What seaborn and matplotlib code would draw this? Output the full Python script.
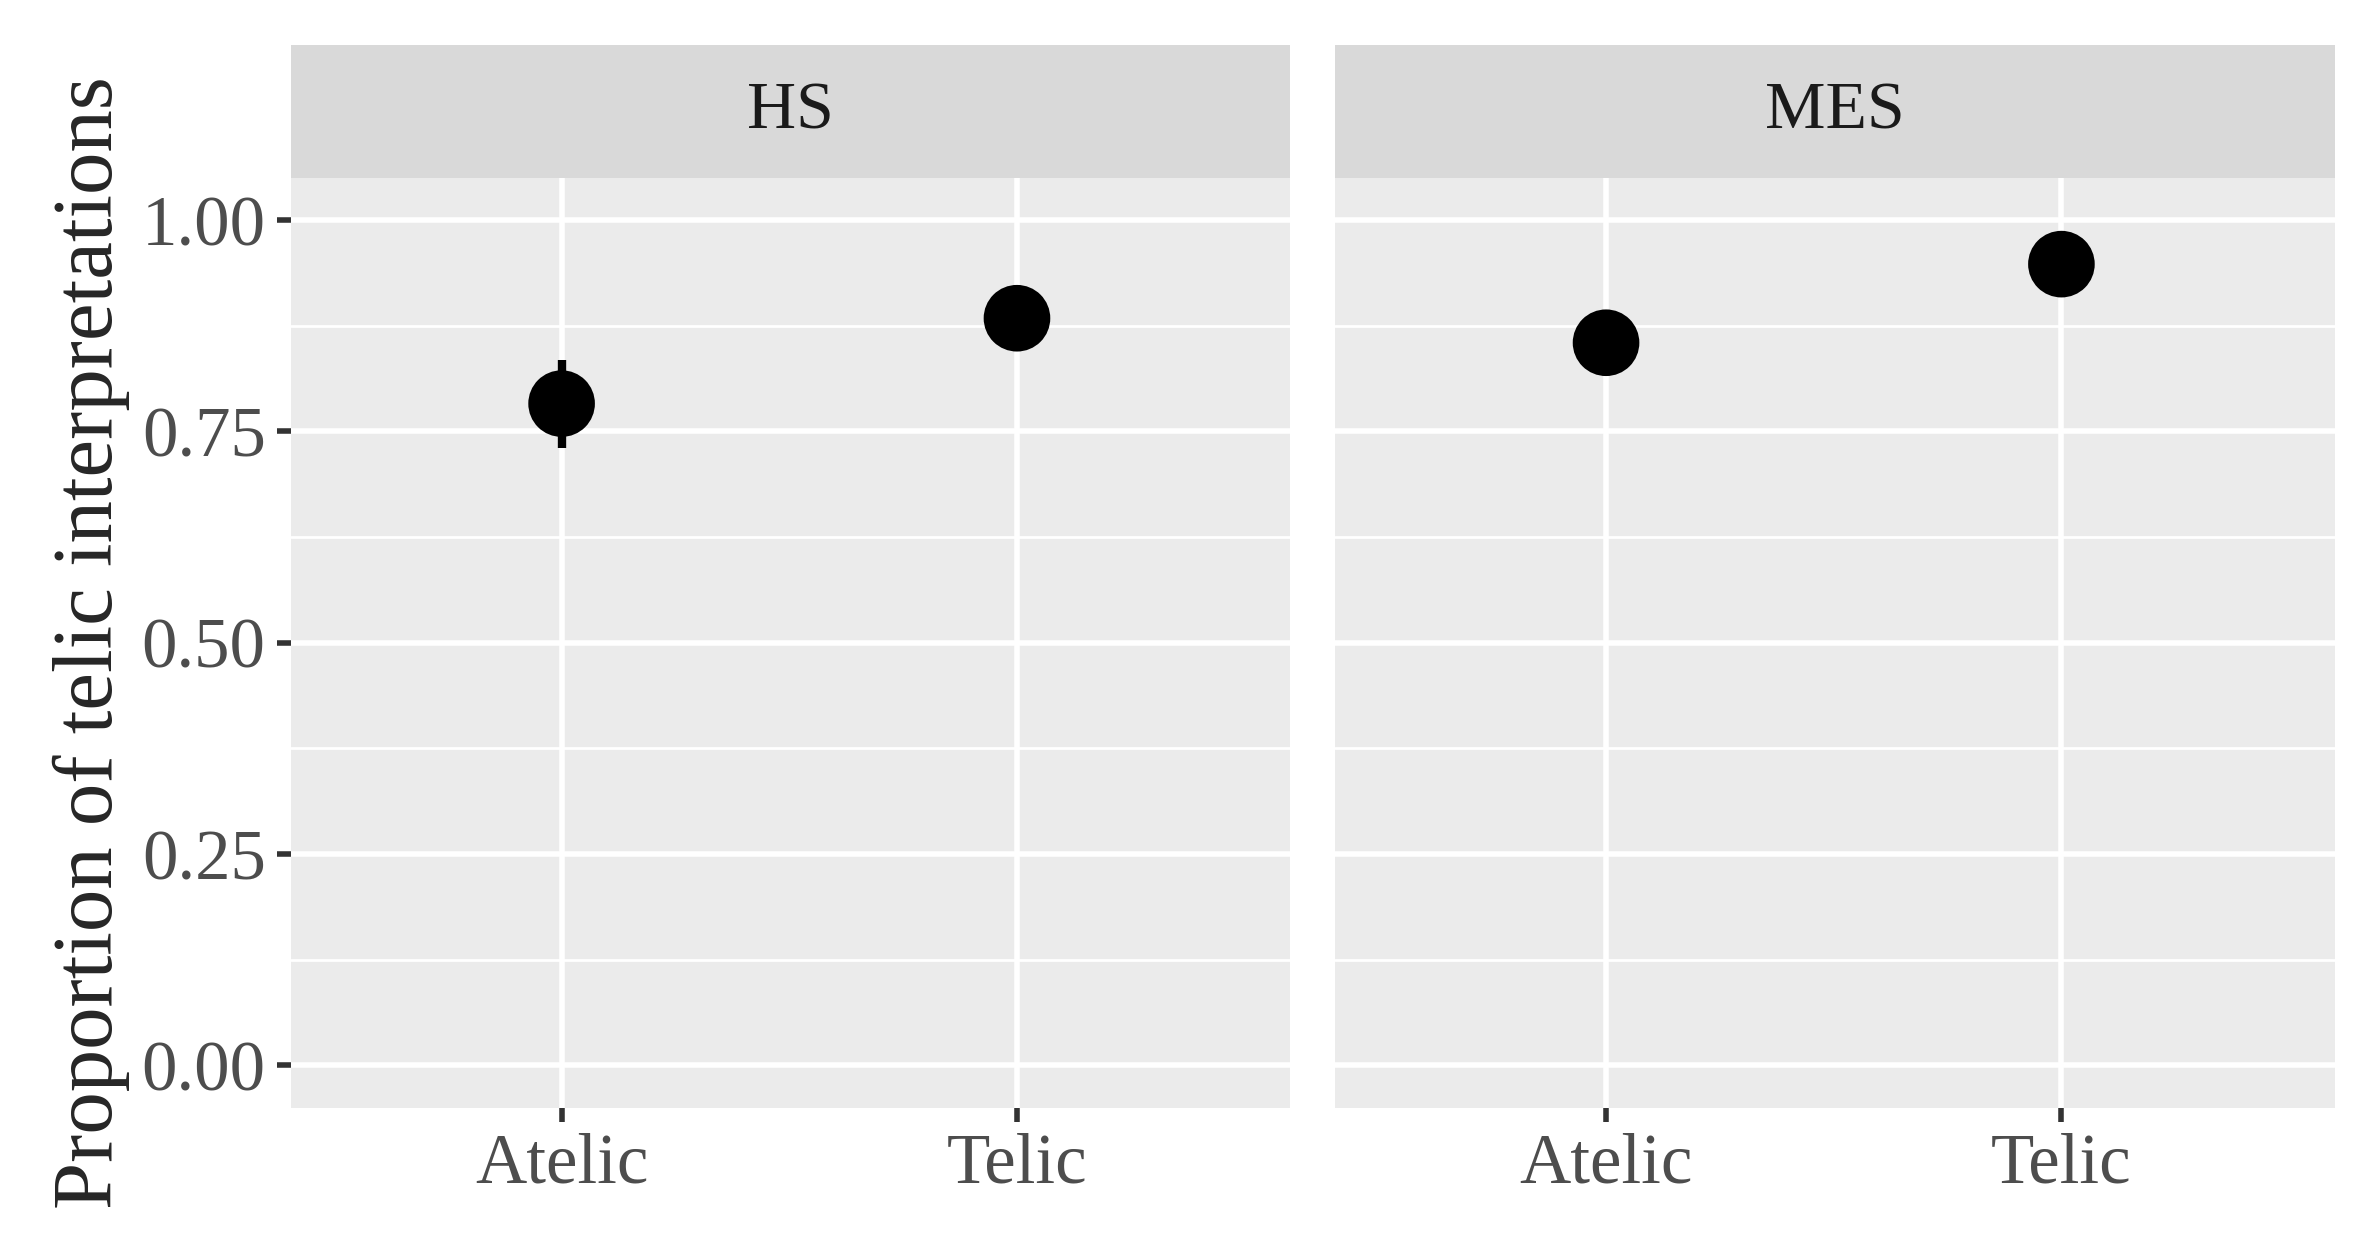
import matplotlib
matplotlib.use("Agg")
import matplotlib.pyplot as plt
import seaborn as sns
import pandas as pd
from matplotlib.patches import Rectangle

groups = ["HS", "HS", "MES", "MES"]
telicity = ["Atelic", "Telic", "Atelic", "Telic"]
proportion = [0.783, 0.884, 0.855, 0.948]
lower = [0.730, 0.855, 0.818, 0.935]
upper = [0.835, 0.915, 0.890, 0.962]
panels = ["HS", "MES"]
yticks = [0.00, 0.25, 0.50, 0.75, 1.00]

df = pd.DataFrame({"group": groups, "tel": telicity, "p": proportion, "lo": lower, "hi": upper})

sns.set_theme(style="white")
plt.rcParams["font.family"] = ["Liberation Serif", "DejaVu Serif"]

fig = plt.figure(figsize=(23.63, 12.53), dpi=100)
lefts = [0.123, 0.565]
w = 0.423
bottom, top = 0.116, 0.858
for i, g in enumerate(panels):
    ax = fig.add_axes([lefts[i], bottom, w, top - bottom])
    ax.set_facecolor("#EBEBEB")
    for s in ax.spines.values():
        s.set_visible(False)
    sub = df[df.group == g].reset_index(drop=True)
    xs = list(range(len(sub)))
    ax.set_xlim(-0.595, 1.6)
    ax.set_ylim(-0.05, 1.05)
    for y in [0.125, 0.375, 0.625, 0.875]:
        ax.axhline(y, color="white", lw=2, zorder=0)
    for y in yticks:
        ax.axhline(y, color="white", lw=4, zorder=0)
    for x in xs:
        ax.axvline(x, color="white", lw=4, zorder=0)
    ax.vlines(xs, sub.lo, sub.hi, color="black", lw=6, zorder=2)
    sns.scatterplot(x=xs, y=sub.p, ax=ax, color="black", s=2300, edgecolor="none", zorder=3, legend=False)
    ax.set_xticks(xs)
    ax.set_xticklabels(sub.tel, fontsize=51, color="#4D4D4D")
    ax.set_yticks(yticks)
    if i == 0:
        ax.set_yticklabels([f"{v:.2f}" for v in yticks], fontsize=51, color="#4D4D4D")
        ax.set_ylabel("Proportion of telic interpretations", fontsize=61, labelpad=8)
    else:
        ax.set_yticklabels([])
        ax.set_ylabel("")
    ax.tick_params(axis="both", length=10, width=4, color="#333333", bottom=True, left=(i == 0), pad=8)
    ax.set_xlabel("")
    fig.patches.append(Rectangle((lefts[i], top), w, 0.964 - top, transform=fig.transFigure,
                                 facecolor="#D9D9D9", edgecolor="none"))
    fig.text(lefts[i] + w / 2, (top + 0.964) / 2, g, ha="center", va="center", fontsize=49, color="#1A1A1A")

fig.savefig("out.png", dpi=100, facecolor="white")
